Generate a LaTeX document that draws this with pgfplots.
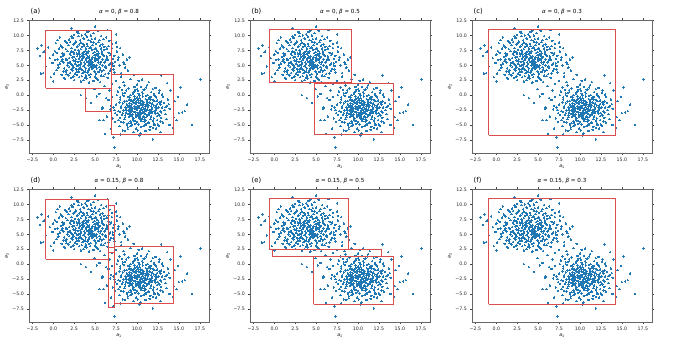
\documentclass[border=0pt]{standalone}
\usepackage{fontspec}
\setmainfont{DejaVu Sans}
\usepackage{pgfplots}
\usepackage{pgfplotstable}
\pgfplotsset{compat=1.18}

\definecolor{pts}{HTML}{1F77B4}
\definecolor{boxred}{RGB}{220,78,78}

% upper-left cluster
\pgfplotstableread[row sep=\\]{x y\\
4.1 6.3\\ 2.7 5.2\\ 5.3 7.4\\ 3.4 8.1\\ 1.2 6.6\\ 4.8 4.9\\ 6.2 5.7\\ 3.0 3.9\\
4.5 9.0\\ 2.2 7.3\\ 5.9 6.8\\ 3.7 5.5\\ 0.6 5.1\\ 4.3 7.9\\ 7.1 6.1\\ 2.9 6.9\\
5.1 3.6\\ 3.3 4.4\\ 1.8 8.4\\ 6.6 8.2\\ 4.0 2.8\\ 2.4 4.6\\ 5.6 5.2\\ 3.8 10.2\\
0.2 7.4\\ 6.9 4.4\\ 4.6 6.0\\ 2.0 5.6\\ 3.5 7.0\\ 5.4 8.9\\ 1.5 3.9\\ 7.6 7.3\\
4.2 4.1\\ 2.6 8.8\\ 6.0 3.2\\ 3.1 6.1\\ 0.9 8.3\\ 5.0 5.8\\ 3.9 3.3\\ 1.7 5.0\\
6.4 6.5\\ 2.3 9.6\\ 4.9 7.2\\ 3.6 2.5\\ -0.4 6.2\\ 5.7 9.9\\ 4.4 5.3\\ 2.8 3.4\\
6.8 5.3\\ 1.1 7.0\\ 3.2 9.2\\ 5.2 4.5\\ 4.7 8.4\\ 0.4 4.2\\ 7.9 5.0\\ 2.5 6.4\\
3.0 5.0\\ 6.1 7.6\\ 4.1 3.8\\ 1.4 9.1\\ 5.5 6.4\\ 3.3 7.7\\ 8.3 6.8\\ 2.1 2.9\\
4.5 5.7\\ 0.0 6.8\\ 6.7 9.1\\ 3.7 4.8\\ 2.9 10.6\\ 5.3 2.6\\ 1.9 6.2\\ 4.0 8.6\\
7.3 3.8\\ 3.4 6.6\\ -1.2 7.2\\ 5.8 4.0\\ 2.6 5.3\\ 4.8 10.4\\ 1.3 4.5\\ 6.3 6.0\\
3.9 6.9\\ 0.8 9.7\\ 5.1 7.9\\ 2.4 3.1\\ 4.3 2.1\\ 7.0 8.6\\ 3.1 8.5\\ 1.6 5.9\\
5.9 5.0\\ 4.6 4.4\\ 2.2 7.9\\ 6.5 2.9\\ 3.5 3.7\\ 0.5 6.0\\ 4.9 6.7\\ 2.8 4.0\\
8.6 4.6\\ 3.6 9.5\\ 1.0 3.4\\ 5.4 7.0\\ 4.2 5.0\\ 2.0 8.9\\ 6.9 7.0\\ 3.8 7.4\\
-0.9 4.8\\ 5.6 8.3\\ 4.4 3.0\\ 1.5 7.7\\ 7.4 5.6\\ 2.7 6.0\\ 3.3 2.3\\ 5.0 9.5\\
0.3 8.7\\ 6.2 4.8\\ 4.1 7.1\\ 2.3 5.0\\ 5.7 3.3\\ 3.0 7.5\\ 1.8 3.3\\ 4.7 5.5\\
6.0 9.4\\ 2.5 10.1\\ 3.9 4.5\\ 7.8 6.3\\ 1.2 5.5\\ 5.2 6.1\\ 3.4 5.9\\ 0.7 7.8\\
4.5 8.0\\ 6.6 3.6\\ 2.9 4.9\\ 4.0 9.8\\ 8.0 7.9\\ 1.6 4.2\\ 5.5 4.7\\ 3.2 6.4\\
-0.1 5.4\\ 6.4 7.8\\ 4.8 2.4\\ 2.1 6.7\\ 3.7 8.3\\ 5.9 6.0\\ 1.4 2.7\\ 4.3 6.5\\
7.2 4.9\\ 2.6 7.6\\ 3.5 4.2\\ 5.3 10.8\\ 0.1 3.6\\ 6.1 5.5\\ 4.6 7.6\\ 2.2 4.3\\
3.8 5.2\\ 5.0 3.1\\ 1.9 9.3\\ 6.8 6.7\\ 3.1 3.0\\ 4.2 9.2\\ 0.9 6.4\\ 5.8 7.3\\
2.4 5.8\\ 4.9 4.0\\ 7.5 8.8\\ 3.6 6.8\\ 1.1 8.0\\ 5.4 5.5\\ 2.8 8.1\\ 4.4 4.7\\
6.3 9.7\\ -1.6 6.6\\ 3.3 5.4\\ 5.1 8.6\\ 2.0 3.7\\ 4.7 6.3\\ 6.7 5.1\\ 3.0 9.9\\
1.3 6.8\\ 5.6 2.2\\ 3.9 7.8\\ 2.5 2.5\\ 7.7 5.9\\ 4.0 5.6\\ 0.6 4.6\\ 5.2 7.5\\
3.4 10.0\\ 6.0 4.2\\ 2.3 6.3\\ 4.5 3.5\\ 1.7 7.4\\ 5.9 8.5\\ 3.2 4.6\\ 8.1 3.7\\
2.7 9.0\\ 4.8 5.1\\ 0.4 7.1\\ 6.4 6.3\\ 3.6 3.8\\ 1.0 5.7\\ 5.3 6.6\\ 4.1 10.6\\
2.9 5.6\\ 7.0 7.9\\ 3.8 2.9\\ 1.6 8.8\\ 5.0 4.8\\ 2.1 5.3\\ 4.6 9.4\\ 6.5 5.9\\
3.1 7.2\\ -0.6 8.0\\ 5.7 5.6\\ 4.3 4.4\\ 2.4 8.5\\ 6.2 3.5\\ 3.5 6.2\\ 1.2 4.0\\
4.9 7.7\\ 7.3 6.6\\ 2.6 3.6\\ 4.0 6.7\\ 5.5 9.2\\ 0.8 5.3\\ 3.3 8.8\\ 6.1 8.1\\
1.9 4.7\\ 4.4 5.9\\ 5.1 2.9\\ 2.8 7.0\\ 3.7 9.4\\ 6.8 4.1\\ 1.5 6.1\\ 4.2 7.4\\
5.6 4.3\\ 2.2 9.9\\ 3.0 4.3\\ 7.6 8.1\\ 4.7 4.6\\ 0.2 5.9\\ 5.8 6.9\\ 3.4 3.2\\
2.0 7.0\\ 4.5 10.0\\ 6.6 7.1\\ 1.3 2.9\\ 3.9 5.9\\ 5.2 5.0\\ 2.7 4.4\\ 4.1 8.2\\
-0.3 3.0\\ 6.3 4.6\\ 3.6 7.2\\ 1.8 5.4\\ 5.4 3.9\\ 4.8 8.8\\ 2.5 6.9\\ 7.1 5.3\\
3.2 5.7\\ 0.5 9.2\\ 5.0 6.3\\ 4.3 3.4\\ 2.9 8.2\\ 6.0 6.6\\ 1.1 6.0\\ 3.8 4.0\\
5.7 7.8\\ 4.6 5.3\\ 2.3 4.1\\ 8.4 5.5\\ 3.5 8.6\\ 1.6 3.5\\ 5.3 5.9\\ 4.2 6.2\\
3.65 6.45\\ 4.35 5.75\\ 2.85 6.55\\ 4.95 6.05\\ 3.25 5.15\\ 4.05 7.25\\ 3.55 4.85\\ 4.75 7.05\\
2.45 7.15\\ 5.15 6.85\\ 3.95 6.15\\ 4.55 4.95\\ 3.15 6.85\\ 5.45 6.25\\ 2.65 5.65\\ 4.25 5.45\\
}\clusterA

% lower-right cluster
\pgfplotstableread[row sep=\\]{x y\\
10.2 -1.8\\ 8.7 -2.9\\ 11.4 -0.6\\ 9.5 -4.1\\ 12.3 -2.4\\ 10.8 0.9\\ 7.9 -1.2\\ 9.9 -3.3\\
11.0 -5.0\\ 8.3 0.3\\ 12.9 -1.1\\ 10.4 -2.6\\ 9.1 -0.4\\ 11.7 -3.6\\ 7.4 -3.0\\ 10.0 1.8\\
12.0 0.2\\ 8.9 -5.4\\ 10.6 -1.0\\ 11.3 -2.0\\ 9.4 -1.5\\ 13.4 -3.2\\ 8.1 -2.2\\ 10.9 -4.4\\
9.7 0.6\\ 12.5 -4.9\\ 7.6 0.0\\ 11.1 1.3\\ 10.3 -3.8\\ 8.6 -3.7\\ 12.7 0.8\\ 9.2 -2.1\\
11.8 -1.4\\ 10.1 -5.9\\ 6.9 -1.8\\ 11.5 -2.9\\ 9.6 -2.8\\ 13.1 -0.3\\ 8.4 -4.6\\ 10.7 -0.2\\
12.2 -3.1\\ 9.0 1.1\\ 11.9 -5.5\\ 10.5 -1.6\\ 8.0 -0.7\\ 12.6 -2.0\\ 9.8 -4.8\\ 11.2 -0.9\\
7.3 -2.5\\ 10.2 0.2\\ 13.6 -1.8\\ 8.8 -1.0\\ 11.6 -4.0\\ 9.3 -3.5\\ 12.1 -1.0\\ 10.0 -2.4\\
8.5 1.6\\ 11.0 -3.2\\ 9.6 -6.2\\ 12.8 -2.7\\ 7.8 -4.2\\ 10.8 -1.2\\ 11.4 2.2\\ 9.1 -2.5\\
12.4 -4.2\\ 10.3 -0.5\\ 8.2 -3.3\\ 13.9 -2.3\\ 9.9 -1.1\\ 11.1 -4.8\\ 8.7 0.8\\ 10.6 -3.0\\
12.0 -1.7\\ 9.4 -5.0\\ 11.7 0.5\\ 7.5 -1.6\\ 10.4 -4.1\\ 12.9 -3.8\\ 9.7 -0.2\\ 11.3 -1.5\\
8.4 -2.6\\ 10.9 1.0\\ 13.2 -1.3\\ 9.2 -4.4\\ 11.8 -2.3\\ 10.1 -3.1\\ 6.6 -0.8\\ 12.3 -0.4\\
9.5 0.2\\ 11.0 -6.0\\ 8.9 -3.2\\ 10.7 -2.0\\ 12.6 -5.1\\ 9.0 -1.8\\ 11.5 -1.2\\ 10.2 2.4\\
7.9 -5.2\\ 12.1 -2.8\\ 9.8 -2.3\\ 11.2 -3.4\\ 8.3 -1.4\\ 10.5 -5.3\\ 13.0 0.1\\ 9.3 -0.9\\
11.9 -0.8\\ 10.0 -4.5\\ 8.6 -2.0\\ 12.4 -1.5\\ 9.7 1.4\\ 11.6 -2.6\\ 7.1 -3.9\\ 10.8 -3.6\\
13.5 -4.0\\ 9.1 -3.0\\ 11.4 -4.6\\ 10.3 -1.3\\ 8.0 -3.8\\ 12.2 1.2\\ 9.9 -2.0\\ 11.1 -0.1\\
8.8 -4.9\\ 10.6 0.5\\ 12.7 -3.4\\ 9.4 -2.7\\ 11.0 -1.9\\ 10.4 -6.4\\ 7.7 0.6\\ 12.0 -3.9\\
9.6 -1.3\\ 11.3 -2.5\\ 8.5 -1.1\\ 10.9 -4.0\\ 13.7 -0.7\\ 9.2 0.0\\ 11.8 -3.0\\ 10.1 -0.8\\
8.1 -4.5\\ 12.5 -2.2\\ 9.5 -3.7\\ 11.2 1.7\\ 10.7 -2.8\\ 8.9 -0.3\\ 12.8 -1.6\\ 9.0 -4.7\\
11.5 -0.4\\ 10.2 -3.4\\ 7.2 -2.1\\ 12.3 -5.6\\ 9.8 -0.6\\ 11.7 -1.9\\ 8.6 -3.4\\ 10.5 -2.2\\
13.3 -2.5\\ 9.3 -1.7\\ 11.9 -4.3\\ 10.0 1.0\\ 8.3 -5.9\\ 12.1 -0.1\\ 9.6 -3.9\\ 11.0 -2.7\\
10.8 -5.2\\ 8.7 -2.4\\ 12.6 0.4\\ 9.1 -0.8\\ 11.4 -3.3\\ 10.3 -0.1\\ 7.6 -3.3\\ 12.9 -2.9\\
9.9 -5.6\\ 11.2 -1.1\\ 8.2 0.9\\ 10.6 -3.9\\ 12.2 -2.1\\ 9.4 -1.0\\ 11.6 -5.3\\ 10.1 -1.9\\
8.0 -2.8\\ 13.1 -4.6\\ 9.7 -4.3\\ 11.3 0.0\\ 10.9 -2.3\\ 8.4 -0.1\\ 12.4 -3.5\\ 9.2 -3.3\\
11.8 -2.8\\ 10.4 -0.9\\ 7.0 -0.3\\ 12.0 -4.7\\ 9.5 -2.2\\ 11.1 -3.7\\ 10.7 0.3\\ 8.8 -1.6\\
12.7 -1.2\\ 9.0 -2.6\\ 11.5 -5.8\\ 10.2 -4.9\\ 8.5 -4.0\\ 13.8 -1.5\\ 9.8 0.9\\ 11.7 -0.3\\
10.0 -3.5\\ 8.1 -1.9\\ 12.5 -3.0\\ 9.3 -4.6\\ 11.2 -2.4\\ 10.5 1.4\\ 7.8 -2.7\\ 12.3 -1.8\\
9.6 -0.9\\ 11.0 -4.2\\ 10.8 -1.5\\ 8.9 -5.7\\ 12.8 -4.4\\ 9.1 -1.4\\ 11.4 -1.7\\ 10.3 -2.9\\
8.6 0.4\\ 12.1 -5.0\\ 9.9 -3.6\\ 11.9 1.0\\ 10.6 -1.4\\ 7.4 -4.5\\ 13.4 -2.0\\ 9.4 -2.4\\
11.3 -4.7\\ 10.1 0.7\\ 8.3 -3.0\\ 12.6 -3.3\\ 9.7 -1.9\\ 11.6 -0.7\\ 10.9 -3.1\\ 8.0 -0.4\\
12.2 -2.6\\ 9.2 -5.2\\ 11.1 -1.6\\ 10.4 -3.3\\ 8.7 -2.2\\ 13.0 -2.1\\ 9.5 0.4\\ 11.8 -2.2\\
10.0 -0.4\\ 6.8 -2.4\\ 12.4 -0.9\\ 9.8 -2.9\\ 11.5 -3.0\\ 10.7 -1.7\\ 9.3 -2.8\\ 10.5 -3.1\\
9.85 -1.45\\ 10.65 -2.45\\ 9.25 -2.25\\ 11.25 -1.85\\ 10.35 -3.55\\ 9.65 -0.75\\ 10.95 -2.65\\ 10.15 -1.15\\
11.45 -2.55\\ 8.95 -1.95\\ 10.55 -4.35\\ 9.45 -3.25\\ 11.65 -1.35\\ 10.25 -2.15\\ 9.05 -3.65\\ 11.05 -0.65\\
}\clusterB

% scattered points between and around the clusters
\pgfplotstableread[row sep=\\]{x y\\
-1.9 7.8\\ -1.4 8.3\\ -1.1 7.3\\ -1.5 3.6\\ -1.2 3.7\\ 0.0 2.3\\ 2.2 11.2\\ 5.0 11.5\\
4.3 10.8\\ 3.0 10.4\\ 8.8 6.0\\ 9.1 6.3\\ 8.5 5.2\\ 7.5 10.2\\ 6.5 10.9\\ 8.9 4.1\\
7.2 4.3\\ 7.5 2.4\\ 8.1 3.1\\ 7.0 1.9\\ 8.4 2.2\\ 9.2 2.7\\ 4.9 1.0\\ 5.5 0.2\\
6.3 -0.5\\ 6.7 0.8\\ 4.5 -1.3\\ 5.9 -2.1\\ 3.3 0.0\\ 3.9 -0.5\\ 6.1 1.5\\ 5.2 -0.2\\
17.6 2.6\\ 16.6 -5.0\\ 15.2 1.3\\ 16.0 -1.6\\ 15.7 -2.7\\ 15.4 -2.9\\ 15.0 -3.0\\ 14.7 -4.2\\
14.5 -1.0\\ 14.9 -0.3\\ 7.3 -8.8\\ 7.2 -7.1\\ 11.9 -7.4\\ 12.9 3.3\\ 14.3 -5.5\\ 14.0 0.8\\
6.0 -4.2\\ 5.5 -4.2\\ 6.4 -3.6\\ 5.8 -2.3\\ 6.2 -6.5\\ 8.0 -6.6\\ 10.3 -6.8\\ 12.8 -6.2\\
14.4 -3.7\\ 13.6 2.0\\ 9.6 3.4\\ 10.6 2.6\\ 7.9 1.3\\ 6.9 -5.6\\ 13.9 -5.0\\ 8.6 -6.0\\
}\clusterC

\pgfplotsset{
  panel/.style={
    scale only axis, width=180pt, height=133pt,
    xmin=-2.9, xmax=18.6, ymin=-9.7, ymax=12.6,
    clip mode=individual,
    xtick={-2.5,0,2.5,5,7.5,10,12.5,15,17.5},
    xticklabels={−2.5,0.0,2.5,5.0,7.5,10.0,12.5,15.0,17.5},
    ytick={-7.5,-5,-2.5,0,2.5,5,7.5,10,12.5},
    yticklabels={−7.5,−5.0,−2.5,0.0,2.5,5.0,7.5,10.0,12.5},
    tick align=outside, major tick length=2pt,
    tick style={black!75, line width=0.45pt},
    axis line style={black!60, line width=0.55pt},
    ticklabel style={font=\fontsize{4.7}{5.5}\selectfont, text=black!85},
    xticklabel style={yshift=0.6pt},
    yticklabel style={xshift=0.4pt},
    xlabel={\textit{a}\textsubscript{1}},
    ylabel={\textit{a}\textsubscript{2}},
    label style={font=\fontsize{4.7}{5.5}\selectfont},
    xlabel style={yshift=3.5pt},
    ylabel style={yshift=-3pt},
    title style={font=\fontsize{5.6}{6.5}\selectfont, yshift=-4.5pt},
  },
  dots/.style={only marks, mark=*, mark size=0.72pt, color=pts,
    mark options={line width=0pt}},
  rect/.style={color=boxred, line width=0.75pt, no marks, sharp plot},
}

\newcommand{\scatterdata}{%
  \addplot[dots] table {\clusterA};
  \addplot[dots] table {\clusterB};
  \addplot[dots] table {\clusterC};
}
\newcommand{\rect}[4]{%
  \addplot[rect] coordinates {(#1,#2) (#3,#2) (#3,#4) (#1,#4) (#1,#2)};
}
\newcommand{\panellabel}[1]{%
  \node[anchor=south west, inner sep=0pt, font=\fontsize{6.8}{7.5}\selectfont]
    at (rel axis cs:0,1) [xshift=1.5pt, yshift=5pt] {#1};
}

\begin{document}
\begin{tikzpicture}
\useasboundingbox (0pt,0pt) rectangle (675pt,-342pt);

\begin{axis}[panel, at={(29pt,-20pt)}, anchor=north west,
  title={\textit{α} = 0, \textit{β} = 0.8}]
\scatterdata
\rect{-0.9}{1.15}{6.9}{10.8}
\rect{3.8}{-2.65}{6.9}{1.15}
\rect{6.9}{-6.65}{14.3}{3.55}
\panellabel{(a)}
\end{axis}

\begin{axis}[panel, at={(250pt,-20pt)}, anchor=north west,
  title={\textit{α} = 0, \textit{β} = 0.5}]
\scatterdata
\rect{-0.6}{2.1}{9.2}{11.05}
\rect{4.75}{-6.65}{14.2}{2.0}
\panellabel{(b)}
\end{axis}

\begin{axis}[panel, at={(472pt,-20pt)}, anchor=north west,
  title={\textit{α} = 0, \textit{β} = 0.3}]
\scatterdata
\rect{-0.9}{-6.7}{14.2}{11.05}
\panellabel{(c)}
\end{axis}

\begin{axis}[panel, at={(29pt,-189pt)}, anchor=north west,
  title={\textit{α} = 0.15, \textit{β} = 0.8}]
\scatterdata
\rect{-0.9}{0.85}{6.55}{10.8}
\rect{6.55}{2.85}{7.35}{9.8}
\rect{6.55}{-7.2}{7.35}{1.9}
\rect{7.35}{-6.65}{14.3}{3.05}
\panellabel{(d)}
\end{axis}

\begin{axis}[panel, at={(250pt,-189pt)}, anchor=north west,
  title={\textit{α} = 0.15, \textit{β} = 0.5}]
\scatterdata
\rect{-0.6}{2.55}{8.9}{11.1}
\rect{-0.25}{1.35}{12.75}{2.55}
\rect{4.7}{-6.7}{14.2}{1.35}
\panellabel{(e)}
\end{axis}

\begin{axis}[panel, at={(472pt,-189pt)}, anchor=north west,
  title={\textit{α} = 0.15, \textit{β} = 0.3}]
\scatterdata
\rect{-0.9}{-6.7}{14.2}{11.1}
\panellabel{(f)}
\end{axis}
\end{tikzpicture}
\end{document}
